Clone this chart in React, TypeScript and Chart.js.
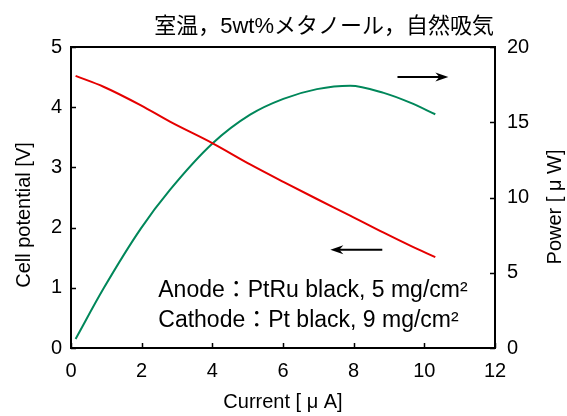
import { useEffect, useRef } from 'react';
import { Chart, registerables } from 'chart.js';

Chart.register(...registerables);

// ---- data ----
const currentA = [0.13, 0.92, 1.98, 2.8, 4.01, 5.07, 6.01, 6.96, 7.9, 8.85, 9.6, 10.31];
const cellV = [4.52, 4.34, 4.03, 3.76, 3.4, 3.05, 2.76, 2.475, 2.2, 1.915, 1.7, 1.51];
const powerUW = [0.6, 3.95, 7.95, 10.5, 13.6, 15.5, 16.55, 17.2, 17.43, 16.95, 16.3, 15.53];

const titleText = '室温，5wt%メタノール，自然吸気';
const xTitle = 'Current [ μ A]';
const yTitle = 'Cell potential [V]';
const y2Title = 'Power [ μ W]';
const noteLines = ['Anode：PtRu black, 5 mg/cm²', 'Cathode：Pt black, 9 mg/cm²'];
const noteAnchor = { x: 2.47, y: [0.85, 0.354] };
// arrows in data coordinates
const arrowPower = { x0: 9.24, x1: 10.68, y: 18.0 };
const arrowVolt = { x0: 8.81, x1: 7.34, y: 1.63 };

const LATIN = '"Liberation Sans", Arial, sans-serif';
const MIXED = '"Liberation Sans", "Noto Sans CJK JP", sans-serif';

const decorPlugin = {
  id: 'decor',
  afterDraw(chart: any) {
    const { ctx, chartArea, scales } = chart;
    const { left, right, top, bottom } = chartArea;
    const sx = scales.x, sy = scales.y, sy2 = scales.y2;
    ctx.save();
    ctx.strokeStyle = '#000';
    ctx.fillStyle = '#000';
    // frame
    ctx.lineWidth = 2;
    ctx.strokeRect(left, top, right - left, bottom - top);
    // inward ticks
    ctx.lineWidth = 1.5;
    const tl = 5;
    ctx.beginPath();
    sx.ticks.forEach((t: any) => {
      const px = Math.round(sx.getPixelForValue(t.value)) + 0.5;
      ctx.moveTo(px, bottom);
      ctx.lineTo(px, bottom - tl);
    });
    sy.ticks.forEach((t: any) => {
      const py = Math.round(sy.getPixelForValue(t.value)) + 0.5;
      ctx.moveTo(left, py);
      ctx.lineTo(left + tl, py);
    });
    sy2.ticks.forEach((t: any) => {
      const py = Math.round(sy2.getPixelForValue(t.value)) + 0.5;
      ctx.moveTo(right, py);
      ctx.lineTo(right - tl, py);
    });
    ctx.stroke();

    // arrows
    const drawArrow = (x0: number, x1: number, y: number) => {
      const dir = Math.sign(x1 - x0);
      ctx.lineWidth = 2;
      ctx.beginPath();
      ctx.moveTo(x0, y);
      ctx.lineTo(x1 - dir * 6, y);
      ctx.stroke();
      ctx.beginPath();
      ctx.moveTo(x1, y);
      ctx.lineTo(x1 - dir * 13, y - 4.5);
      ctx.lineTo(x1 - dir * 9, y);
      ctx.lineTo(x1 - dir * 13, y + 4.5);
      ctx.closePath();
      ctx.fill();
    };
    drawArrow(sx.getPixelForValue(arrowPower.x0), sx.getPixelForValue(arrowPower.x1), sy2.getPixelForValue(arrowPower.y));
    drawArrow(sx.getPixelForValue(arrowVolt.x0), sx.getPixelForValue(arrowVolt.x1), sy.getPixelForValue(arrowVolt.y));

    // note text
    ctx.font = '23px ' + MIXED;
    ctx.textAlign = 'left';
    ctx.textBaseline = 'alphabetic';
    noteLines.forEach((line, i) => {
      ctx.fillText(line, sx.getPixelForValue(noteAnchor.x), sy.getPixelForValue(noteAnchor.y[i]));
    });

    // title
    ctx.font = '22px ' + MIXED;
    ctx.textAlign = 'right';
    ctx.textBaseline = 'middle';
    ctx.fillText(titleText, right - 1, 27);

    // axis titles
    ctx.font = '20px ' + LATIN;
    ctx.textAlign = 'center';
    ctx.textBaseline = 'middle';
    ctx.fillText(xTitle, (left + right) / 2, 402);
    ctx.save();
    ctx.translate(24, 215);
    ctx.rotate(-Math.PI / 2);
    ctx.fillText(yTitle, 0, 0);
    ctx.restore();
    ctx.save();
    ctx.translate(555, 207);
    ctx.rotate(-Math.PI / 2);
    ctx.fillText(y2Title, 0, 0);
    ctx.restore();
    ctx.restore();
  },
};

export default function App() {
  const ref = useRef<HTMLCanvasElement>(null);
  useEffect(() => {
    if (!ref.current) return;
    const tickFont = { family: LATIN, size: 20 };
    const grid = { display: false, drawTicks: false };
    const chart = new Chart(ref.current, {
      type: 'line',
      data: {
        datasets: [
          {
            label: 'Cell potential',
            data: currentA.map((x, i) => ({ x, y: cellV[i] })),
            borderColor: '#e50000',
            borderWidth: 2,
            pointRadius: 0,
            cubicInterpolationMode: 'monotone',
            yAxisID: 'y',
          },
          {
            label: 'Power',
            data: currentA.map((x, i) => ({ x, y: powerUW[i] })),
            borderColor: '#00875a',
            borderWidth: 2,
            pointRadius: 0,
            cubicInterpolationMode: 'monotone',
            yAxisID: 'y2',
          },
        ],
      },
      options: {
        responsive: false,
        animation: false,
        layout: { padding: { top: 47, left: 0, right: 0, bottom: 0 } },
        plugins: { legend: { display: false }, tooltip: { enabled: false }, title: { display: false } },
        scales: {
          x: {
            type: 'linear',
            min: 0,
            max: 12,
            ticks: { stepSize: 2, font: tickFont, color: '#000', padding: 11, maxRotation: 0 },
            grid,
            border: { display: false },
            afterFit: (s: any) => { s.height = 68; },
          },
          y: {
            type: 'linear',
            position: 'left',
            min: 0,
            max: 5,
            ticks: { stepSize: 1, font: tickFont, color: '#000', padding: 9 },
            grid,
            border: { display: false },
            afterFit: (s: any) => { s.width = 71; },
          },
          y2: {
            type: 'linear',
            position: 'right',
            min: 0,
            max: 20,
            ticks: { stepSize: 5, font: tickFont, color: '#000', padding: 12 },
            grid,
            border: { display: false },
            afterFit: (s: any) => { s.width = 72; },
          },
        },
      },
      plugins: [decorPlugin],
    } as any);
    return () => chart.destroy();
  }, []);
  return (
    <div style={{ position: 'fixed', left: 0, top: 0, width: 567, height: 416, background: '#fff' }}>
      <canvas ref={ref} width={567} height={416} />
    </div>
  );
}
